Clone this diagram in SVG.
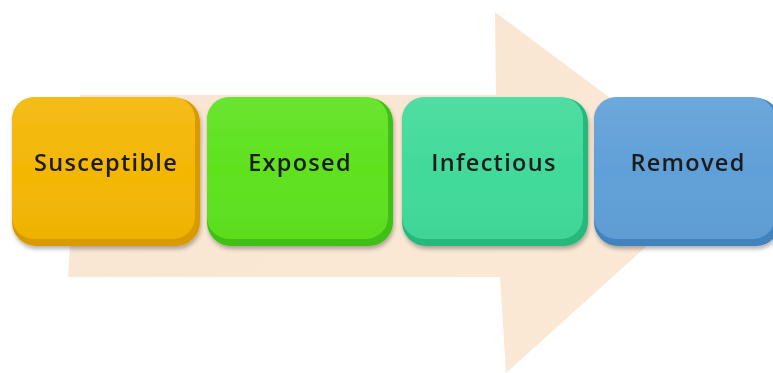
<svg xmlns="http://www.w3.org/2000/svg" width="773" height="373" viewBox="0 0 773 373">
<style>
.lbl{font-family:"Open Sans","Liberation Sans",sans-serif;font-size:23.5px;font-weight:600;letter-spacing:1.3px;fill:#1a1a1a;text-anchor:middle;}
</style>
<defs>
<linearGradient id="arrowG" x1="0" y1="0" x2="1" y2="1">
<stop offset="0" stop-color="#f8e5d1"/>
<stop offset="1" stop-color="#fbe9d6"/>
</linearGradient>
<filter id="sh" x="-10%" y="-10%" width="120%" height="130%">
<feGaussianBlur in="SourceAlpha" stdDeviation="2"/>
<feOffset dx="1" dy="3" result="b"/>
<feComponentTransfer><feFuncA type="linear" slope="0.3"/></feComponentTransfer>
<feMerge><feMergeNode/><feMergeNode in="SourceGraphic"/></feMerge>
</filter>
<linearGradient id="gloss" x1="0" y1="0" x2="0" y2="1">
<stop offset="0" stop-color="#fff" stop-opacity="0.08"/>
<stop offset="0.5" stop-color="#fff" stop-opacity="0"/>
<stop offset="1" stop-color="#000" stop-opacity="0.03"/>
</linearGradient>
</defs>
<rect width="773" height="373" fill="#fff"/>
<g id="connectors">
<polygon points="80,95 496,95 495,12 720,180 506,373 500,277 68,277" fill="url(#arrowG)"/>
</g>
<g id="susceptible" filter="url(#sh)">
<rect x="12" y="98" width="188" height="148" rx="24" fill="#d99a00"/>
<rect x="12" y="97" width="183" height="142" rx="22" fill="#f3b705"/>
<rect x="12" y="97" width="183" height="142" rx="22" fill="url(#gloss)"/>
<text class="lbl" x="106" y="171">Susceptible</text>
</g>
<g id="exposed" filter="url(#sh)">
<rect x="207" y="98" width="186" height="148" rx="24" fill="#3fbf12"/>
<rect x="207" y="97" width="181" height="142" rx="22" fill="#5ee21f"/>
<rect x="207" y="97" width="181" height="142" rx="22" fill="url(#gloss)"/>
<text class="lbl" x="300" y="171">Exposed</text>
</g>
<g id="infectious" filter="url(#sh)">
<rect x="402" y="98" width="186" height="148" rx="24" fill="#28b97c"/>
<rect x="402" y="97" width="181" height="142" rx="22" fill="#42da9b"/>
<rect x="402" y="97" width="181" height="142" rx="22" fill="url(#gloss)"/>
<text class="lbl" x="494" y="171">Infectious</text>
</g>
<g id="removed" filter="url(#sh)">
<rect x="594" y="98" width="186" height="148" rx="24" fill="#4382bd"/>
<rect x="594" y="97" width="181" height="142" rx="22" fill="#61a0d8"/>
<rect x="594" y="97" width="181" height="142" rx="22" fill="url(#gloss)"/>
<text class="lbl" x="688" y="171">Removed</text>
</g>
</svg>
